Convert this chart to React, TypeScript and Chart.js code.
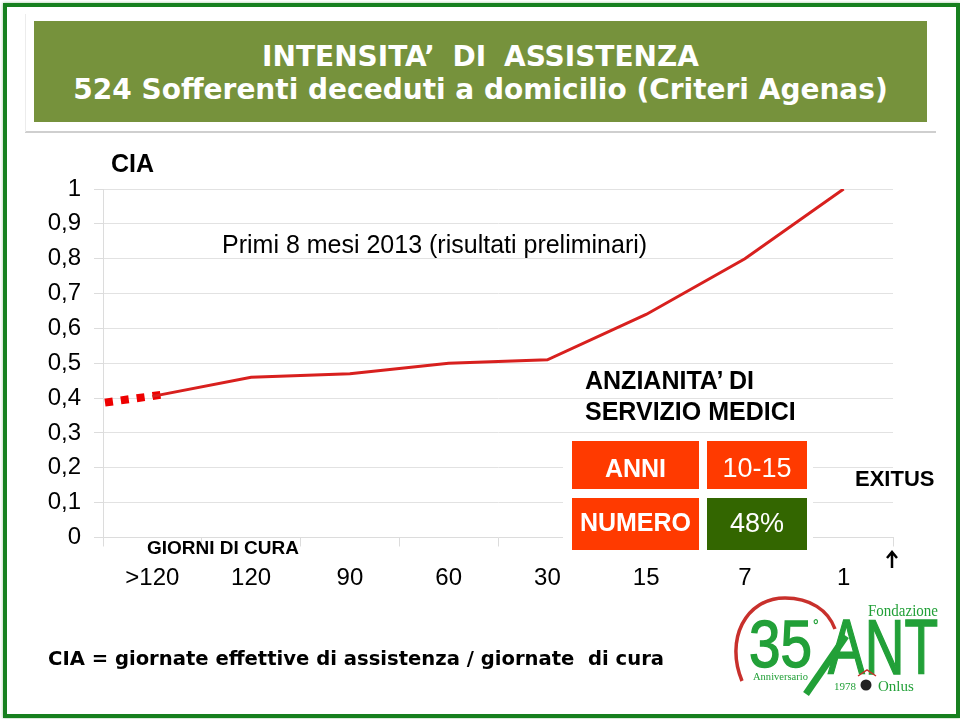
import React, { useEffect, useRef } from "react";
import { Chart, registerables } from "chart.js";

Chart.register(...registerables);

const categories = [">120", "120", "90", "60", "30", "15", "7", "1"];
const ciaValues = [0.405, 0.46, 0.47, 0.5, 0.51, 0.64, 0.8, 1];
const leadInX = [-0.48, 0.1];
const leadInY = [0.387, 0.41];

const SANS = '"Liberation Sans", Arial, sans-serif';
const WIDE = '"DejaVu Sans", Verdana, sans-serif';

function Label(p: { x: number; y: number; size: number; text: string; bold?: boolean; color?: string; w?: number; font?: string; center?: boolean; word?: number }) {
  return (
    <div
      style={{
        position: "absolute",
        left: p.x,
        top: p.y,
        width: p.w,
        fontFamily: p.font || SANS,
        fontSize: p.size,
        fontWeight: p.bold ? 700 : 400,
        color: p.color || "#000",
        whiteSpace: "pre",
        lineHeight: 1,
        wordSpacing: p.word,
        textAlign: p.center ? "center" : "left",
      }}
    >
      {p.text}
    </div>
  );
}

function Box(p: { x: number; y: number; w: number; h: number; c: string }) {
  return <div style={{ position: "absolute", left: p.x, top: p.y, width: p.w, height: p.h, background: p.c }} />;
}

export default function App() {
  const ref = useRef<HTMLCanvasElement | null>(null);
  useEffect(() => {
    document.body.style.margin = "0";
    const chart = new Chart(ref.current as HTMLCanvasElement, {
      type: "line",
      data: {
        labels: categories,
        datasets: [
          {
            data: ciaValues,
            borderColor: "#d8201e",
            borderWidth: 3,
            pointRadius: 0,
            tension: 0,
            xAxisID: "x",
            yAxisID: "y",
          },
          {
            data: leadInX.map((x, i) => ({ x, y: leadInY[i] })),
            borderColor: "#ee0000",
            borderWidth: 8,
            borderDash: [8, 8],
            pointRadius: 0,
            xAxisID: "x2",
            yAxisID: "y",
          },
        ] as any,
      },
      options: {
        animation: false,
        responsive: false,
        layout: { padding: { left: 0, right: 67, top: 189, bottom: 0 } },
        plugins: { legend: { display: false }, title: { display: false }, tooltip: { enabled: false } },
        scales: {
          x: {
            type: "category",
            position: "bottom",
            offset: true,
            afterFit: (s: any) => {
              s.height = 719 - 537.5;
            },
            grid: { display: true, drawOnChartArea: false, drawTicks: true, offset: true, tickLength: 9, color: "#dcdcdc" },
            border: { color: "#dcdcdc" },
            ticks: { color: "#000", autoSkip: false, maxRotation: 0, padding: 17, font: { family: SANS, size: 24 } },
          },
          x2: { type: "linear", display: false, min: -0.5, max: 7.5 },
          y: {
            min: 0,
            max: 1,
            afterFit: (s: any) => {
              s.width = 103;
            },
            grid: { color: "#e2e2e2", tickLength: 9, tickColor: "#dcdcdc" },
            border: { color: "#dcdcdc" },
            ticks: {
              stepSize: 0.1,
              color: "#000",
              padding: 13,
              font: { family: SANS, size: 24 },
              callback: (v: any) => String(Math.round(Number(v) * 10) / 10).replace(".", ","),
            },
          },
        },
      } as any,
    });
    return () => chart.destroy();
  }, []);

  return (
    <div style={{ position: "relative", width: 960, height: 719, overflow: "hidden", background: "#fff" }}>
      <canvas ref={ref} width={960} height={719} style={{ position: "absolute", left: 0, top: 0, display: "block" }} />

      <div style={{ position: "absolute", left: 3, top: 3, width: 949, height: 707, border: "4px solid #17801f", boxShadow: "0 0 3px #9ac49a" }} />
      <Box x={25} y={131} w={911} h={2} c="#cfcfcf" />
      <Box x={25} y={14} w={1} h={118} c="#ececec" />
      <Box x={34} y={21} w={893} h={101} c="#76923c" />
      <Label x={34} y={43} w={893} size={28} bold center font={WIDE} color="#fff" word={8} text="INTENSITA’ DI ASSISTENZA" />
      <Label x={34} y={76} w={893} size={28} bold center font={WIDE} color="#fff" text="524 Sofferenti deceduti a domicilio (Criteri Agenas)" />

      <Label x={111} y={151} size={25} bold text="CIA" />
      <Label x={222} y={232} size={25} text="Primi 8 mesi 2013 (risultati preliminari)" />
      <Label x={585} y={368} size={25} bold text="ANZIANITA’ DI" />
      <Label x={585} y={399} size={25} bold text="SERVIZIO MEDICI" />

      <Box x={563} y={433} w={250} h={125} c="#fff" />
      <Box x={572} y={441} w={127} h={48} c="#ff3a00" />
      <Box x={707} y={441} w={100} h={48} c="#ff3a00" />
      <Box x={572} y={498} w={127} h={52} c="#ff3a00" />
      <Box x={707} y={498} w={100} h={52} c="#336600" />
      <Label x={572} y={456} w={127} size={25} bold center color="#fff" text="ANNI" />
      <Label x={707} y={455} w={100} size={27} center color="#fff" text="10-15" />
      <Label x={572} y={510} w={127} size={25} bold center color="#fff" text="NUMERO" />
      <Label x={707} y={510} w={100} size={27} center color="#fff" text="48%" />

      <Label x={855} y={468} size={22} bold text="EXITUS" />
      <Label x={147} y={538} size={19} bold text="GIORNI DI CURA" />
      <Label x={48} y={649} size={19.6} bold font={WIDE} text="CIA = giornate effettive di assistenza / giornate  di cura" />

      <svg width={960} height={719} style={{ position: "absolute", left: 0, top: 0 }}>
        <path d="M892 568 V552 M887 558 L892 552 L897 558" fill="none" stroke="#000" strokeWidth={2.5} />
        <path d="M742 681 C725 640 745 598 785 598 C810 598 828 610 835 629" fill="none" stroke="#c8302c" strokeWidth={3.5} />
        <text x={749} y={667} fontFamily={SANS} fontSize={66} fill="#22a038" stroke="#22a038" strokeWidth={1.5} textLength={63} lengthAdjust="spacingAndGlyphs">35</text>
        <text x={813} y={630} fontFamily={SANS} fontSize={14} fontWeight={700} fill="#22a038">°</text>
        <text x={868} y={616} fontFamily='"Liberation Serif", serif' fontSize={16} fill="#22a038" textLength={70} lengthAdjust="spacingAndGlyphs">Fondazione</text>
        <text x={753} y={680} fontFamily='"Liberation Serif", serif' fontSize={11} fill="#22a038" textLength={55} lengthAdjust="spacingAndGlyphs">Anniversario</text>
        <text x={828} y={674} fontFamily={SANS} fontSize={78} fill="#22a038" stroke="#22a038" strokeWidth={1.5} textLength={110} lengthAdjust="spacingAndGlyphs">ANT</text>
        <path d="M806 694 L846 636" stroke="#22a038" strokeWidth={7} />
        <text x={834} y={690} fontFamily='"Liberation Serif", serif' fontSize={11} fill="#22a038">1978</text>
        <path d="M858 676 L867 670 L876 676" fill="none" stroke="#c8302c" strokeWidth={1.5} />
        <circle cx={866} cy={685} r={5.5} fill="#222" />
        <text x={878} y={691} fontFamily='"Liberation Serif", serif' fontSize={15} fill="#22a038">Onlus</text>
      </svg>
    </div>
  );
}
